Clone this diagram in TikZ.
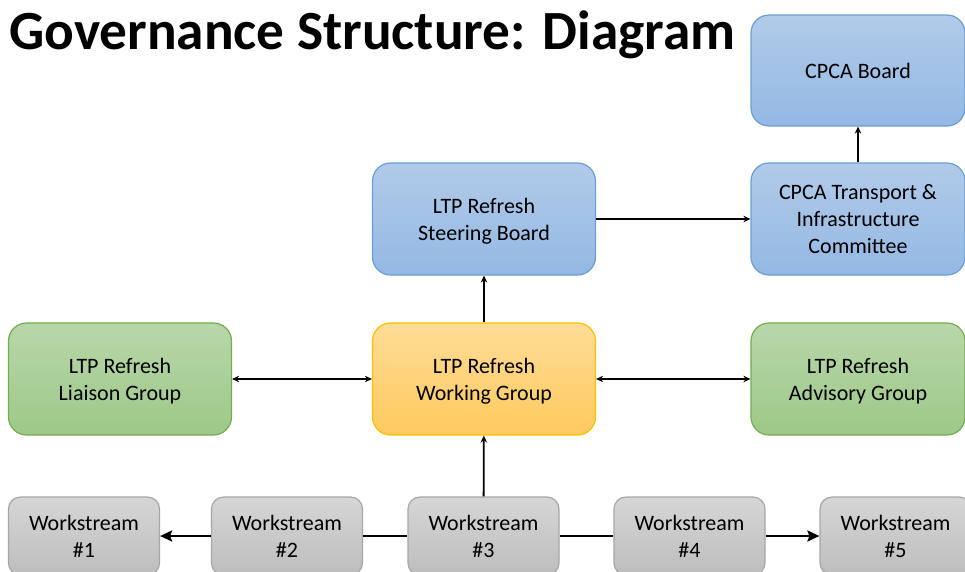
\documentclass[tikz,border=0pt]{standalone}
\usepackage{fontspec}
\setmainfont{Carlito}
\usepackage{xcolor}
\usetikzlibrary{arrows.meta}

\definecolor{blueTop}{HTML}{B1CBE9}
\definecolor{blueBot}{HTML}{94B8E3}
\definecolor{blueLine}{HTML}{6A9FD6}
\definecolor{greenTop}{HTML}{B8D7AA}
\definecolor{greenBot}{HTML}{9DC888}
\definecolor{greenLine}{HTML}{75AC4F}
\definecolor{orangeTop}{HTML}{FFDC97}
\definecolor{orangeBot}{HTML}{FFCA5E}
\definecolor{orangeLine}{HTML}{FFC000}
\definecolor{grayTop}{HTML}{D6D6D6}
\definecolor{grayBot}{HTML}{BDBDBD}
\definecolor{grayLine}{HTML}{A6A6A6}

\begin{document}
\begin{tikzpicture}[
    x=1pt, y=-1pt,
    box/.style={
        rectangle,
        rounded corners=18pt,
        line width=1.2pt,
        minimum width=223pt,
        minimum height=112pt,
        text depth=0pt,
        align=center,
        font=\fontsize{22}{27}\selectfont
    },
    bluebox/.style={box, draw=blueLine, top color=blueTop, bottom color=blueBot},
    greenbox/.style={box, draw=greenLine, top color=greenTop, bottom color=greenBot},
    orangebox/.style={box, draw=orangeLine, top color=orangeTop, bottom color=orangeBot},
    workbox/.style={box, draw=grayLine, top color=grayTop, bottom color=grayBot,
        rounded corners=12pt, minimum width=151pt, minimum height=78pt},
    link/.style={-{Stealth[length=7pt, width=6.5pt]}, line width=1.5pt},
    bothlink/.style={{Stealth[length=7pt, width=6.5pt]}-{Stealth[length=7pt, width=6.5pt]}, line width=1.5pt},
    worklink/.style={-{Stealth[length=12pt, width=11pt, inset=2pt]}, line width=2.3pt}
]

\clip (0,0) rectangle (965,571);

\node[anchor=base west, inner sep=0pt, font=\bfseries\fontsize{55.3}{60}\selectfont] (title) at (9,49) {Governance Structure: Diagram};

\node[bluebox, minimum width=214pt, minimum height=111pt] (board) at (858,70.5) {CPCA Board};
\node[bluebox, minimum width=214pt] (committee) at (858,219) {CPCA Transport \&\\Infrastructure\\Committee};
\node[bluebox] (steering) at (484,219) {LTP Refresh\\Steering Board};

\node[greenbox] (liaison) at (120,379) {LTP Refresh\\Liaison Group};
\node[orangebox] (working) at (484,379) {LTP Refresh\\Working Group};
\node[greenbox, minimum width=214pt] (advisory) at (858,379) {LTP Refresh\\Advisory Group};

\node[workbox] (ws1) at (84,536) {Workstream\\\#1};
\node[workbox] (ws2) at (287,536) {Workstream\\\#2};
\node[workbox] (ws3) at (483.5,536) {Workstream\\\#3};
\node[workbox] (ws4) at (689.5,536) {Workstream\\\#4};
\node[workbox] (ws5) at (895.5,536) {Workstream\\\#5};

\draw[link] (working) -- (steering);
\draw[link] (steering) -- (committee);
\draw[link] (committee) -- (board);
\draw[bothlink] (liaison) -- (working);
\draw[bothlink] (working) -- (advisory);
\draw[link, line width=1.8pt] (ws3) -- (working);

\draw[worklink] (ws2) -- (ws1);
\draw[worklink, -] (ws2) -- (ws3);
\draw[worklink, -] (ws3) -- (ws4);
\draw[worklink] (ws4) -- (ws5);

\end{tikzpicture}
\end{document}
